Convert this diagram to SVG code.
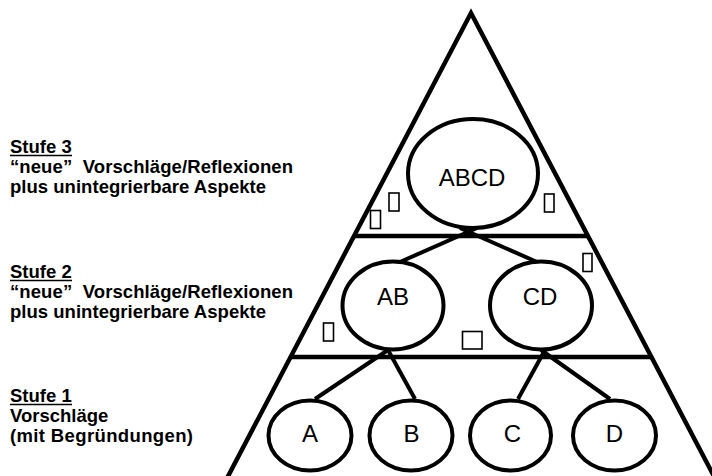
<svg xmlns="http://www.w3.org/2000/svg" width="712" height="476" viewBox="0 0 712 476">
<style>
.frame{fill:none;stroke:#000;stroke-width:4.5;stroke-linejoin:miter}
.node{fill:#fff;stroke:#000;stroke-width:4}
.conn{fill:none;stroke:#000;stroke-width:4}
.box{fill:#fff;stroke:#000;stroke-width:1.6}
.nl{font-family:"Liberation Sans",Arial,sans-serif;font-size:24px;text-anchor:middle;fill:#000}
.lbl{font-family:"Liberation Sans",Arial,sans-serif;font-size:18.5px;font-weight:bold;fill:#000}
.ul{stroke:#000;stroke-width:1.6}
</style>
<rect width="712" height="476" fill="#fff"/>
<g id="pyramid">
<path class="frame" d="M214 503 L471 13 L728 503"/>
<line class="frame" x1="354" y1="236" x2="588" y2="236"/>
<line class="frame" x1="290" y1="357" x2="652" y2="357"/>
</g>
<g id="connectors">
<line class="conn" x1="477" y1="228" x2="400" y2="262"/>
<line class="conn" x1="460" y1="228" x2="537" y2="262"/>
<line class="conn" x1="388" y1="350" x2="315" y2="399"/>
<line class="conn" x1="388" y1="350" x2="415" y2="399"/>
<line class="conn" x1="545" y1="350" x2="518" y2="399"/>
<line class="conn" x1="541" y1="350" x2="610" y2="399"/>
</g>
<g id="ABCD"><ellipse class="node" cx="473" cy="173.5" rx="65" ry="54.5"/><text class="nl" x="472" y="186">ABCD</text></g>
<g id="AB"><ellipse class="node" cx="393" cy="305.5" rx="50.5" ry="44"/><text class="nl" x="393" y="305">AB</text></g>
<g id="CD"><ellipse class="node" cx="541" cy="305.5" rx="51" ry="44"/><text class="nl" x="540" y="305">CD</text></g>
<g id="A"><ellipse class="node" cx="310" cy="435.5" rx="41.5" ry="35"/><text class="nl" x="310" y="442">A</text></g>
<g id="B"><ellipse class="node" cx="411" cy="435.5" rx="41.5" ry="35"/><text class="nl" x="411.5" y="442">B</text></g>
<g id="C"><ellipse class="node" cx="510.5" cy="435.5" rx="40.5" ry="35"/><text class="nl" x="512.5" y="442">C</text></g>
<g id="D"><ellipse class="node" cx="614.5" cy="435.5" rx="41.5" ry="35"/><text class="nl" x="614.5" y="442">D</text></g>
<g id="aspects">
<rect class="box" x="389" y="193" width="10" height="18"/>
<rect class="box" x="370.5" y="210.5" width="10" height="18"/>
<rect class="box" x="544.5" y="194" width="9.5" height="18"/>
<rect class="box" x="583" y="253.5" width="9" height="18"/>
<rect class="box" x="323.5" y="323" width="10" height="18"/>
<rect class="box" x="462.5" y="331.5" width="19.5" height="17.5"/>
</g>
<g id="stufe3">
<text class="lbl" x="10" y="153">Stufe 3</text>
<line class="ul" x1="10" y1="155.5" x2="72" y2="155.5"/>
<text class="lbl" x="10" y="173" textLength="283">“neue”&#160; Vorschläge/Reflexionen</text>
<text class="lbl" x="10" y="193" textLength="256">plus unintegrierbare Aspekte</text>
</g>
<g id="stufe2">
<text class="lbl" x="10" y="278">Stufe 2</text>
<line class="ul" x1="10" y1="280.5" x2="72" y2="280.5"/>
<text class="lbl" x="10" y="298" textLength="283">“neue”&#160; Vorschläge/Reflexionen</text>
<text class="lbl" x="10" y="318" textLength="256">plus unintegrierbare Aspekte</text>
</g>
<g id="stufe1">
<text class="lbl" x="10" y="402">Stufe 1</text>
<line class="ul" x1="10" y1="404.5" x2="72" y2="404.5"/>
<text class="lbl" x="10" y="422">Vorschläge</text>
<text class="lbl" x="10" y="442" textLength="183">(mit Begründungen)</text>
</g>
</svg>
